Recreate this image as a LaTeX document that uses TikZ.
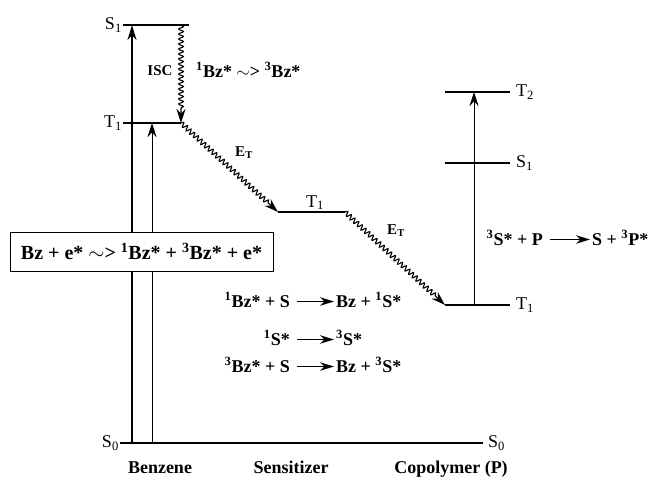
\documentclass[tikz,border=0pt]{standalone}
\usepackage{fontspec}
\setmainfont{Liberation Serif}
\usetikzlibrary{arrows.meta,positioning,calc,decorations.pathmorphing}

\begin{document}
\begin{tikzpicture}[x=1pt,y=-1pt,
  level/.style={line width=1.2pt},
  lab/.style={font=\fontsize{18}{20}\selectfont, inner sep=1pt},
  bf/.style={font=\fontsize{18}{20}\selectfont\bfseries, inner sep=0pt},
  small/.style={font=\fontsize{15}{17}\selectfont\bfseries, inner sep=0pt},
  wavy/.style={decorate, decoration={snake, amplitude=2.4pt, segment length=5pt, post length=13pt}},
  tip/.style={-{Stealth[length=14pt,width=9pt]}},
  ]
\useasboundingbox (0,0) rectangle (651,482);

% energy levels
\coordinate (bS0) at (120,443); \coordinate (pS0) at (483,443);
\coordinate (bS1) at (123,25);  \coordinate (bT1) at (123,123);
\coordinate (sT1) at (278,212);
\coordinate (pT1) at (445,305); \coordinate (pS1) at (445,163); \coordinate (pT2) at (445,92);
\draw[level] (bS0) -- (pS0);
\draw[level] (bS1) -- ++(66,0);
\draw[level] (bT1) -- ++(58,0) coordinate (bT1e);
\draw[level] (sT1) -- ++(67,0) coordinate (sT1e);
\foreach \n in {pT1,pS1,pT2} \draw[level] (\n) -- ++(65,0) coordinate (\n e);

\node[lab, left=0pt of bS0] (lbS0) {S\textsubscript{0}};
\node[lab, right=4pt of pS0] (lpS0) {S\textsubscript{0}};
\node[lab, left=0pt of bS1] (lbS1) {S\textsubscript{1}};
\node[lab, left=0pt of bT1] (lbT1) {T\textsubscript{1}};
\node[lab, above=1pt of sT1e, xshift=-30pt] (lsT1) {T\textsubscript{1}};
\foreach \n/\t in {pT1/T\textsubscript{1},pS1/S\textsubscript{1},pT2/T\textsubscript{2}}
  \node[lab, right=5pt of \n e] (l\n) {\t};

% excitation of benzene
\coordinate (a1) at (132,443); \coordinate (a2) at (152,443);
\draw[line width=2pt, -{Stealth[length=15pt,width=9pt]}] (a1) -- (a1 |- bS1);
\draw[line width=1pt, tip] (a2) -- (a2 |- bT1);
\node[draw, fill=white, line width=1pt, bf, font=\fontsize{20}{22}\selectfont\bfseries,
      minimum width=263pt, minimum height=39pt] (box) at (141.5,251.5)
  {Bz + e* $\sim$> \textsuperscript{1}Bz* + \textsuperscript{3}Bz* + e*};

% ISC and energy transfer
\coordinate (isc) at (181,25);
\draw[line width=1.1pt, tip, wavy] (isc) -- (bT1e);
\node[small] (lisc) at (160,71) {ISC};
\node[bf, anchor=base west] (lbz) at (196,77) {\textsuperscript{1}Bz* $\sim$> \textsuperscript{3}Bz*};
\draw[line width=1.1pt, tip, wavy] (bT1e) -- (sT1);
\draw[line width=1.1pt, tip, wavy] (sT1e) -- (pT1);
\node[small] (et1) at (244,153) {E\textsubscript{T}};
\node[small] (et2) at (396,231) {E\textsubscript{T}};

% copolymer excitation
\coordinate (pv) at (474,305);
\draw[line width=1pt, tip] (pv) -- (pv |- pT2);

% reactions
\foreach \i/\y/\l/\r in {1/307/\textsuperscript{1}Bz* + S/Bz + \textsuperscript{1}S*,
                         2/345/\textsuperscript{1}S*/\textsuperscript{3}S*,
                         3/372/\textsuperscript{3}Bz* + S/Bz + \textsuperscript{3}S*} {
  \node[bf, anchor=base east] (rl\i) at (290,\y) {\l};
  \node[bf, anchor=base west] (rr\i) at (336,\y) {\r};
  \draw[line width=1.4pt, -{Stealth[length=14pt,width=8.5pt]}] ([xshift=7pt,yshift=5.5pt]rl\i.base east) -- ([xshift=-2pt,yshift=5.5pt]rr\i.base west);
}
\node[bf, anchor=base east] (pl) at (543,245) {\textsuperscript{3}S* + P};
\node[bf, anchor=base west] (pr) at (592,245) {S + \textsuperscript{3}P*};
\draw[line width=1.4pt, -{Stealth[length=14pt,width=8.5pt]}] ([xshift=7pt,yshift=5.5pt]pl.base east) -- ([xshift=-2pt,yshift=5.5pt]pr.base west);

% molecules
\node[bf, anchor=base] (benz) at (160,473) {Benzene};
\node[bf, anchor=base] (sens) at (291,473) {Sensitizer};
\node[bf, anchor=base] (copo) at (451,473) {Copolymer (P)};
\end{tikzpicture}
\end{document}
